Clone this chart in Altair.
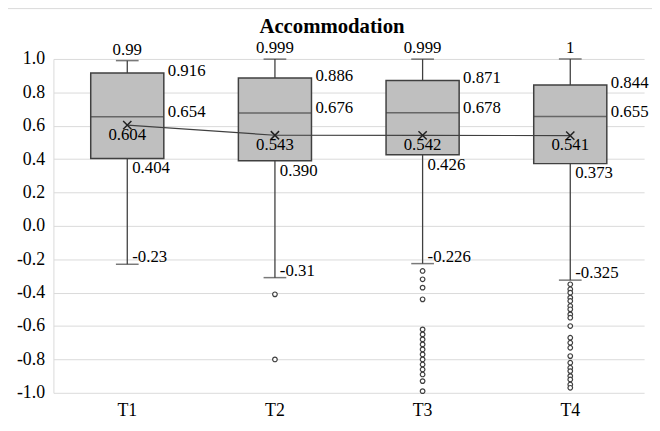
import altair as alt
import pandas as pd

# ---- data ----
categories = ["T1", "T2", "T3", "T4"]
whisker_low = [-0.23, -0.31, -0.226, -0.325]
q1 = [0.404, 0.390, 0.426, 0.373]
median = [0.654, 0.676, 0.678, 0.655]
q3 = [0.916, 0.886, 0.871, 0.844]
whisker_high = [0.99, 0.999, 0.999, 1.0]
means = [0.604, 0.543, 0.542, 0.541]

outliers_T2 = [-0.41, -0.80]
outliers_T3 = [-0.27, -0.32, -0.37, -0.44, -0.62, -0.65, -0.68, -0.71, -0.74,
               -0.77, -0.80, -0.83, -0.86, -0.89, -0.93, -0.99]
outliers_T4 = [-0.35, -0.38, -0.40, -0.43, -0.45, -0.48, -0.50, -0.53, -0.55,
               -0.60, -0.67, -0.70, -0.73, -0.78, -0.82, -0.85, -0.87, -0.90,
               -0.92, -0.95, -0.97]

y_ticks = [-1.0, -0.8, -0.6, -0.4, -0.2, 0.0, 0.2, 0.4, 0.6, 0.8, 1.0]
chart_title = "Accommodation"

stats = pd.DataFrame({
    "cat": categories, "lo": whisker_low, "q1": q1, "med": median,
    "q3": q3, "hi": whisker_high, "mean": means,
})
out_df = pd.DataFrame({
    "cat": ["T2"] * len(outliers_T2) + ["T3"] * len(outliers_T3) + ["T4"] * len(outliers_T4),
    "v": outliers_T2 + outliers_T3 + outliers_T4,
})

FONT = "Liberation Serif"
W, H = 598, 338
BOX = 74
DARK = "#404040"
GRID = "#d9d9d9"
MINUS = "\u2212"

xscale = alt.Scale(domain=categories, paddingInner=0, paddingOuter=0)
xaxis = alt.Axis(title=None, labelAngle=0, domain=False, ticks=False, grid=False,
                 labelPadding=9, labelFont=FONT, labelFontSize=18, labelColor="#000")
yscale = alt.Scale(domain=[-1, 1], nice=False, zero=False)
yaxis = alt.Axis(title=None, values=y_ticks, domain=True, domainColor=GRID,
                 labelExpr=f"replace(format(datum.value, '.1f'), '{MINUS}', '-')",
                 ticks=False, grid=True, gridColor=GRID, gridWidth=1, labelPadding=9,
                 labelFont=FONT, labelFontSize=18, labelColor="#000")

X = alt.X("cat:N", scale=xscale, axis=xaxis)

def Y(field):
    return alt.Y(field, type="quantitative", scale=yscale, axis=yaxis)

base = alt.Chart(stats)

frame = alt.Chart(pd.DataFrame({"a": [0]})).mark_rect(
    fill="transparent", stroke=GRID, strokeWidth=1
).encode(x=alt.value(-48), x2=alt.value(W + 40), y=alt.value(-51), y2=alt.value(H + 80))

title = alt.Chart(pd.DataFrame({"t": [chart_title]})).mark_text(
    font=FONT, fontSize=21, fontWeight="bold", color="#000", align="center", baseline="middle"
).encode(text="t:N", x=alt.value(W / 2 - 17), y=alt.value(-32))

whisk = base.mark_rule(color=DARK, strokeWidth=1.3).encode(x=X, y=Y("lo"), y2="hi:Q")
box = base.mark_bar(size=BOX, fill="#bfbfbf", stroke=DARK, strokeWidth=1.5).encode(
    x=X, y=Y("q1"), y2="q3:Q")
med_t = base.mark_tick(size=BOX, thickness=1.5, color=DARK).encode(x=X, y=Y("med"))
cap_lo = base.mark_tick(size=23, thickness=1.5, color=DARK).encode(x=X, y=Y("lo"))
cap_hi = base.mark_tick(size=23, thickness=1.5, color=DARK).encode(x=X, y=Y("hi"))
mean_line = base.mark_line(color=DARK, strokeWidth=1.2).encode(x=X, y=Y("mean"))
mean_pt = base.mark_point(shape="M-1,-1L1,1M1,-1L-1,1", size=70, strokeWidth=1.5,
                          color="#222222", filled=False, opacity=1).encode(x=X, y=Y("mean"))
outl = alt.Chart(out_df).mark_point(shape="circle", size=22, filled=True, fill="white",
                                    stroke=DARK, strokeWidth=1.2, opacity=1).encode(x=X, y=Y("v"))

def lbl(field, fmt, **kw):
    return base.transform_calculate(
        txt=f"replace(format(datum.{field}, '{fmt}'), '{MINUS}', '-')"
    ).mark_text(font=FONT, fontSize=17, color="#000", **kw).encode(
        x=X, y=Y(field), text="txt:N")

t_hi = lbl("hi", ".3~f", align="center", baseline="middle", dy=-11)
t_q3 = lbl("q3", ".3f", align="left", baseline="middle", dx=BOX / 2 + 4, dy=-2)
t_med = lbl("med", ".3f", align="left", baseline="middle", dx=BOX / 2 + 4, dy=-5)
t_mean = lbl("mean", ".3f", align="center", baseline="middle", dy=10)
t_q1 = lbl("q1", ".3f", align="left", baseline="middle", dx=5, dy=10)
t_lo = lbl("lo", ".3~f", align="left", baseline="middle", dx=5, dy=-7)

chart = alt.layer(
    frame, whisk, box, med_t, cap_lo, cap_hi, mean_line, mean_pt, outl,
    t_hi, t_q3, t_med, t_mean, t_q1, t_lo, title,
).properties(
    width=W, height=H,
    autosize=alt.AutoSizeParams(type="none"),
    padding={"left": 46, "top": 49, "right": 8, "bottom": 30},
).configure_view(strokeWidth=0)

chart.save("out.html", embed_options={"renderer": "svg", "actions": False})
